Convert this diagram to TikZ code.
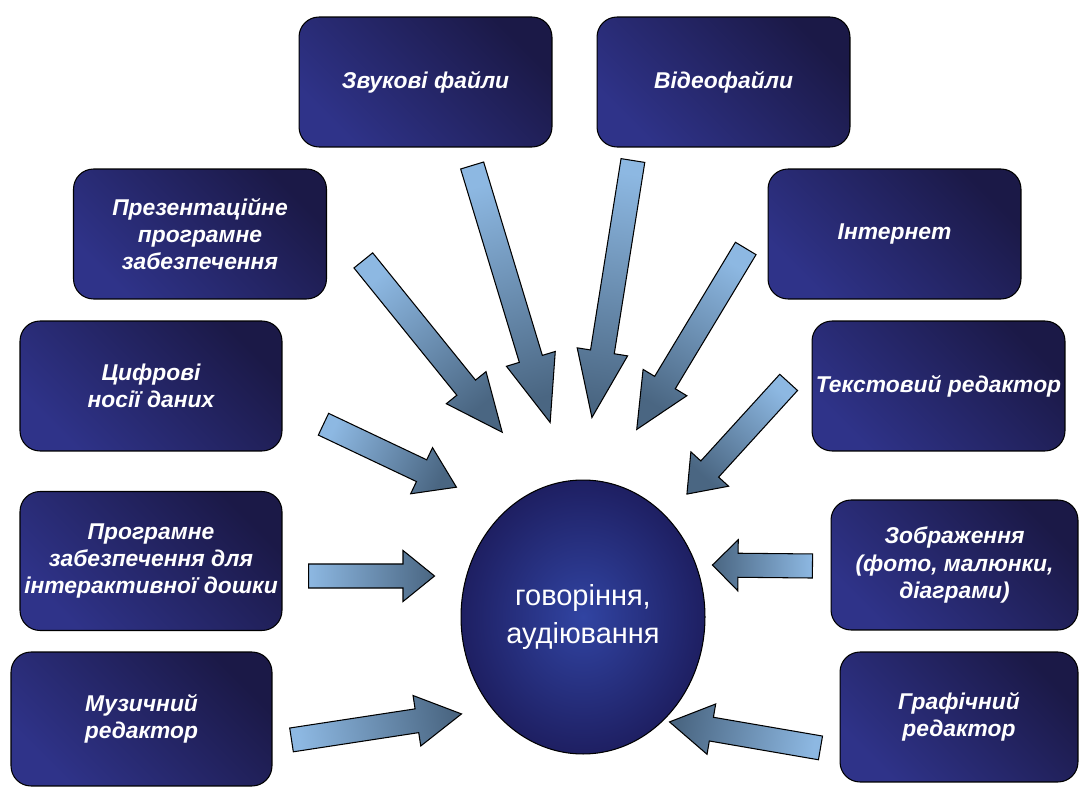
\documentclass[tikz,border=0pt]{standalone}
\usepackage{fontspec}
\setmainfont{Liberation Sans}
\usetikzlibrary{calc,shapes.geometric,shapes.arrows}
\definecolor{boxdark}{HTML}{1B1947}
\definecolor{boxlight}{HTML}{2F3389}
\definecolor{arrlight}{HTML}{8DB8E2}
\definecolor{arrdark}{HTML}{4A6682}
\definecolor{circin}{HTML}{3144A2}
\definecolor{circout}{HTML}{1E1F62}
\tikzset{
box/.style={draw=black,line width=0.6pt,rounded corners=0.4cm,top color=boxlight,bottom color=boxdark,shading angle=135,text=white,font=\fontsize{13}{15.5}\selectfont\bfseries\itshape,align=center,minimum width=5.06cm,minimum height=2.6cm,inner sep=2pt},
barrow/.style={single arrow,draw=black,line width=0.6pt,left color=arrlight,right color=arrdark,inner xsep=0pt,inner ysep=0.23cm,single arrow head extend=0.27cm,sloped,allow upside down,pos=0,anchor=tail}
}
\newcommand\blockarrow[3]{\path let \p1=($(#2)-(#1)$),\n1={atan2(\y1,\x1)+90} in (#1) -- (#2) node[barrow,minimum height={veclen(\x1,\y1)},single arrow tip angle=#3,shading angle=\n1]{};}
\begin{document}
\begin{tikzpicture}[x=0.02cm,y=-0.02cm]
\useasboundingbox (0,0) rectangle (1079,787);
\node[box] (zvuk) at (425.5,82) {Звукові файли};
\node[box] (video) at (723.5,82) {Відеофайли};
\node[box] (prez) at (200,234) {Презентаційне\\програмне\\забезпечення};
\node[box] (inet) at (894.5,234) {Інтернет};
\node[box,minimum width=5.24cm] (cyfr) at (151,386) {Цифрові\\носії даних};
\node[box] (tekst) at (938.5,386) {Текстовий редактор};
\node[box,minimum width=5.24cm,minimum height=2.78cm] (prog) at (151,561) {Програмне\\забезпечення для\\інтерактивної дошки};
\node[box,minimum width=4.94cm] (zobr) at (954.5,565) {Зображення\\(фото, малюнки,\\діаграми)};
\node[box,minimum width=5.22cm,minimum height=2.68cm] (muz) at (141.5,719) {Музичний\\редактор};
\node[box,minimum width=4.76cm] (graf) at (959,717) {Графічний\\редактор};
\node[ellipse,draw=black,line width=0.6pt,inner color=circin,outer color=circout,minimum width=4.88cm,minimum height=5.48cm,text=white,font=\fontsize{16.5}{22}\selectfont,align=center] (mova) at (583,617) {говоріння,\\аудіювання};
\coordinate (s1) at (472,165); \coordinate (e1) at (550,422);
\coordinate (s2) at (633,160); \coordinate (e2) at (592,417);
\coordinate (s3) at (363,260); \coordinate (e3) at (502,432);
\coordinate (s4) at (746,248); \coordinate (e4) at (637,429);
\coordinate (s5) at (323,424); \coordinate (e5) at (456,487);
\coordinate (s6) at (789,382); \coordinate (e6) at (687,494);
\coordinate (s7) at (308,576); \coordinate (e7) at (434,576);
\coordinate (s8) at (813,566); \coordinate (e8) at (713,565);
\coordinate (s9) at (291,740); \coordinate (e9) at (461,714);
\coordinate (s10) at (821,748); \coordinate (e10) at (670,722);
\blockarrow{s1}{e1}{42}
\blockarrow{s2}{e2}{42}
\blockarrow{s3}{e3}{48}
\blockarrow{s4}{e4}{50}
\blockarrow{s5}{e5}{67}
\blockarrow{s6}{e6}{74}
\blockarrow{s7}{e7}{78}
\blockarrow{s8}{e8}{90}
\blockarrow{s9}{e9}{59}
\blockarrow{s10}{e10}{62}
\end{tikzpicture}
\end{document}
